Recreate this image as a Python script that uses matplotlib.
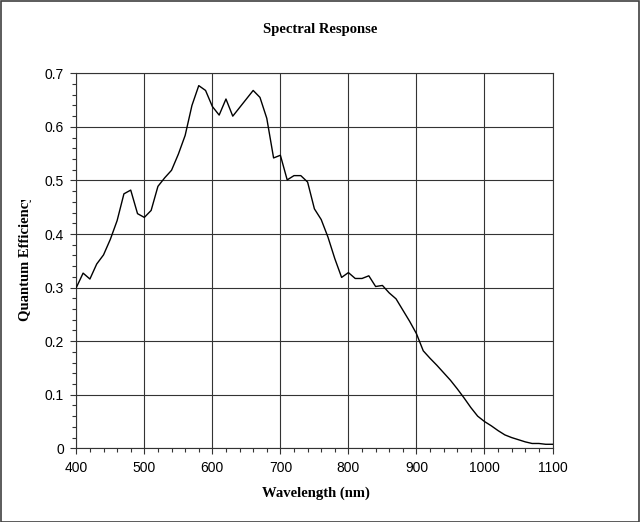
import matplotlib
matplotlib.use("Agg")
import matplotlib.pyplot as plt
from matplotlib.ticker import MultipleLocator
from matplotlib.transforms import Bbox, TransformedBbox
from matplotlib.patches import Rectangle

wavelength = list(range(400, 1101, 10))
qe = [0.300, 0.327, 0.316, 0.344, 0.361, 0.390, 0.425, 0.475, 0.482, 0.438,
      0.431, 0.444, 0.489, 0.505, 0.519, 0.549, 0.584, 0.640, 0.677, 0.668,
      0.638, 0.622, 0.652, 0.620, 0.636, 0.652, 0.668, 0.655, 0.616, 0.542,
      0.547, 0.501, 0.509, 0.509, 0.497, 0.447, 0.427, 0.394, 0.354, 0.319,
      0.328, 0.317, 0.317, 0.322, 0.302, 0.304, 0.290, 0.279, 0.258, 0.237,
      0.214, 0.182, 0.168, 0.155, 0.141, 0.127, 0.111, 0.094, 0.076, 0.060,
      0.050, 0.042, 0.033, 0.025, 0.020, 0.016, 0.012, 0.009, 0.009, 0.0075,
      0.0075]

title = "Spectral Response"
xlabel = "Wavelength (nm)"
ylabel = "Quantum Efficiency"

W, H = 640, 522
fig = plt.figure(figsize=(W / 100, H / 100), dpi=100)
ax = fig.add_axes([76.3 / W, 1 - 448.3 / H, (552.5 - 76.3) / W, (448.3 - 73.3) / H])

ax.plot(wavelength, qe, color="black", lw=1.0, zorder=3)

ax.set_xlim(400, 1100)
ax.set_ylim(0, 0.7)
ax.xaxis.set_major_locator(MultipleLocator(100))
ax.xaxis.set_minor_locator(MultipleLocator(20))
ax.yaxis.set_major_locator(MultipleLocator(0.1))
ax.yaxis.set_minor_locator(MultipleLocator(0.02))
ax.yaxis.set_major_formatter(matplotlib.ticker.FuncFormatter(
    lambda v, p: "0" if abs(v) < 1e-9 else f"{v:.1f}"))

gc = "#333333"
ax.grid(True, which="major", color=gc, lw=0.8)
for s in ax.spines.values():
    s.set_color(gc)
    s.set_linewidth(0.8)

ax.tick_params(which="major", direction="out", length=4, width=0.8, color=gc,
               labelsize=10, pad=5)
ax.tick_params(which="minor", direction="out", length=3, width=0.8, color=gc)
for lab in ax.get_xticklabels() + ax.get_yticklabels():
    lab.set_fontfamily("Liberation Sans")

serif = dict(family="Liberation Serif", weight="bold", size=10.5)
fig.text(319.7 / W, 1 - 33 / H, title, ha="center", va="baseline", **serif)
fig.text(315.5 / W, 1 - 497 / H, xlabel, ha="center", va="baseline", **serif)
yl = fig.text(26 / W, 1 - 321 / H, ylabel, ha="center", va="bottom",
              rotation=90, **serif)
yl.set_clip_box(TransformedBbox(Bbox([[0, 0], [1, 1 - 200 / H]]), fig.transFigure))
yl.set_clip_on(True)

fig.patches.append(Rectangle((0.5 / W, 0.5 / H), 1 - 1.5 / W, 1 - 1.5 / H,
                             transform=fig.transFigure, fill=False,
                             edgecolor="#404040", lw=1.2))

fig.savefig("out.png", dpi=100)
